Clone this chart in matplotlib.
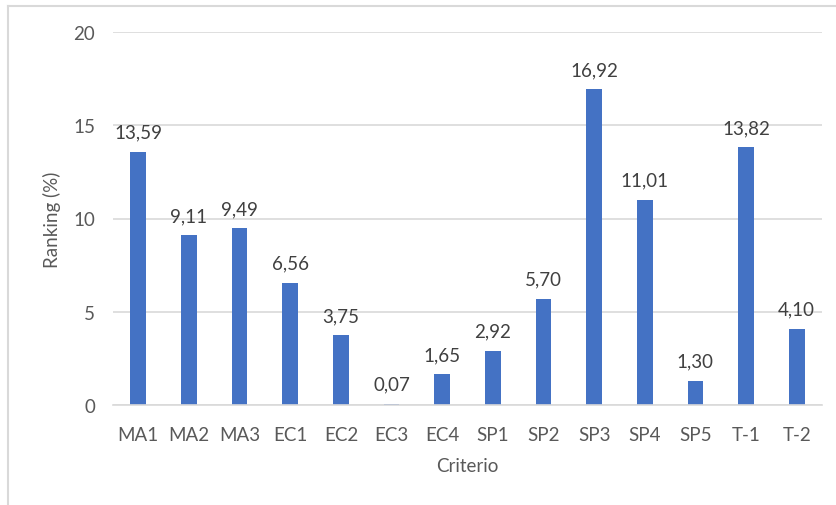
import matplotlib
matplotlib.use("Agg")
import matplotlib.pyplot as plt
from matplotlib.lines import Line2D

categories = ["MA1", "MA2", "MA3", "EC1", "EC2", "EC3", "EC4",
              "SP1", "SP2", "SP3", "SP4", "SP5", "T-1", "T-2"]
ranking = [13.59, 9.11, 9.49, 6.56, 3.75, 0.07, 1.65,
           2.92, 5.70, 16.92, 11.01, 1.30, 13.82, 4.10]
y_ticks = [0, 5, 10, 15, 20]

plt.rcParams['font.family'] = ['Lato', 'DejaVu Sans']
W, H = 837, 506
fig = plt.figure(figsize=(W / 100, H / 100), dpi=100)
ax = fig.add_axes([113 / W, (H - 406) / H, (822 - 113) / W, (406 - 33) / H])

text_col = "#595959"
fs = 13.5
x = range(len(categories))
bars = ax.bar(x, ranking, width=0.31, color="#4472C4", zorder=3)
for xi, v in zip(x, ranking):
    ax.annotate(f"{v:.2f}".replace(".", ","), (xi, v), xytext=(0, 8),
                textcoords="offset points", ha="center", va="bottom",
                fontsize=fs, color="#404040")

ax.set_xlim(-0.5, len(categories) - 0.5)
ax.set_ylim(0, 20)
ax.set_yticks(y_ticks)
ax.set_yticklabels([str(t) for t in y_ticks])
ax.set_xticks(list(x))
ax.set_xticklabels(categories)
ax.tick_params(axis="both", length=0, labelsize=fs, labelcolor=text_col)
ax.tick_params(axis="y", pad=13)
ax.tick_params(axis="x", pad=15)
ax.grid(axis="y", color="#d9d9d9", linewidth=1.2, zorder=0)
for s in ["top", "right", "left"]:
    ax.spines[s].set_visible(False)
ax.spines["bottom"].set_color("#d9d9d9")
ax.spines["bottom"].set_linewidth(1.2)
ax.spines["bottom"].set_zorder(4)

fig.text(52 / W, 1 - 220 / H, "Ranking (%)", rotation=90, ha="center", va="center",
         fontsize=fs, color=text_col)
fig.text(467 / W, 1 - 467 / H, "Criterio", ha="center", va="center",
         fontsize=fs, color=text_col)

# chart frame (top and left edges)
fig.add_artist(Line2D([8 / W, 1], [1 - 7 / H, 1 - 7 / H], color="#d9d9d9", linewidth=1.5,
                      transform=fig.transFigure))
fig.add_artist(Line2D([8 / W, 8 / W], [0, 1 - 7 / H], color="#d9d9d9", linewidth=1.5,
                      transform=fig.transFigure))

fig.savefig("out.png", dpi=100)
